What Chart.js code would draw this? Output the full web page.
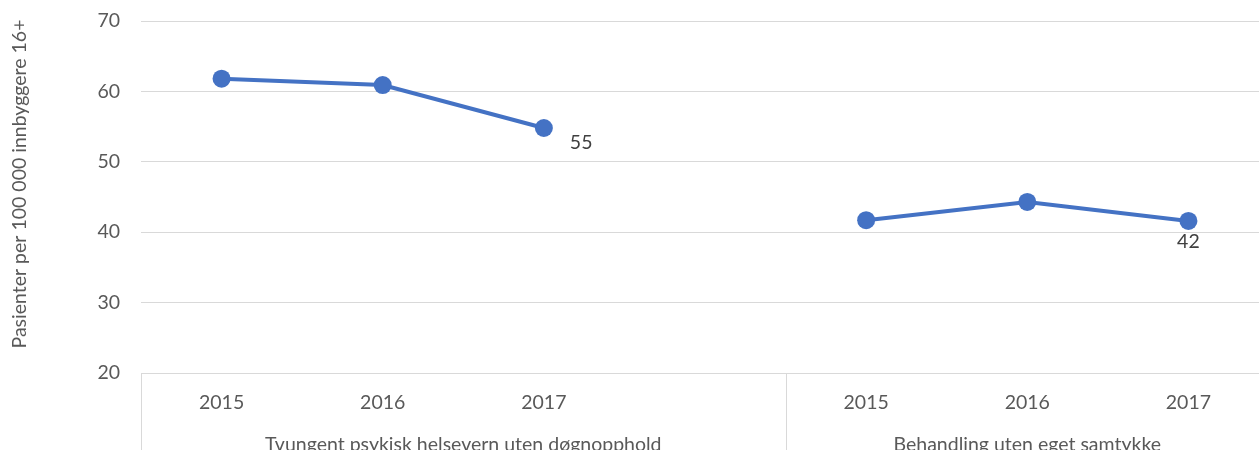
<!DOCTYPE html>
<html>
<head>
<meta charset="utf-8">
<script src="https://cdn.jsdelivr.net/npm/chart.js@4/dist/chart.umd.min.js"></script>
<style>
  html, body { margin: 0; padding: 0; background: #fff; overflow: hidden; }
  canvas { display: block; }
</style>
</head>
<body>
<canvas id="c" width="1278" height="470"></canvas>
<script>
// Year labels per category; the empty slot separates the two groups
const yearLabels = ['2015', '2016', '2017', '', '2015', '2016', '2017'];
const groupNames = ['Tvungent psykisk helsevern uten døgnopphold', 'Behandling uten eget samtykke'];
const groupRanges = [[0, 3], [4, 6]];  // first and last category index of each group
const tvungent = [61.8, 60.9, 54.8];
const behandling = [41.7, 44.3, 41.6];
const yTicks = [20, 30, 40, 50, 60, 70];
const yTitle = 'Pasienter per 100 000 innbyggere 16+';

const series = [...tvungent, null, ...behandling];
const labelIdx = [2, 6];              // points that carry a value label

const FONT = 'Lato, "Open Sans", sans-serif';
const FS = 19.5;
const BLUE = '#4472C4';
const GRID = '#d9d9d9';

const decor = {
  id: 'decor',
  afterDraw(chart) {
    const ctx = chart.ctx;
    const x = chart.scales.x;
    const area = chart.chartArea;
    ctx.save();
    // category axis separators at the group edges
    ctx.strokeStyle = GRID;
    ctx.lineWidth = 1;
    groupRanges.forEach(([a]) => {
      const p = Math.round(x.getPixelForValue(a - 0.5)) + 0.5;
      ctx.beginPath();
      ctx.moveTo(p, area.bottom);
      ctx.lineTo(p, chart.height);
      ctx.stroke();
    });
    // group names, centred under each group's span
    ctx.fillStyle = '#595959';
    ctx.font = FS + 'px ' + FONT;
    ctx.textAlign = 'center';
    ctx.textBaseline = 'middle';
    groupNames.forEach((g, i) => {
      const [a, b] = groupRanges[i];
      const cx = (x.getPixelForValue(a - 0.5) + x.getPixelForValue(b + 0.5)) / 2;
      ctx.fillText(g, cx, area.bottom + 72);
    });
    // value labels
    ctx.fillStyle = '#404040';
    const meta = chart.getDatasetMeta(0);
    labelIdx.forEach((idx, k) => {
      const pt = meta.data[idx];
      const txt = Math.round(series[idx]).toString();
      if (k === 0) {
        ctx.textAlign = 'left';
        ctx.fillText(txt, pt.x + 26, pt.y + 15);
      } else {
        ctx.textAlign = 'center';
        ctx.fillText(txt, pt.x, pt.y + 21);
      }
    });
    // y-axis title
    ctx.fillStyle = '#595959';
    ctx.font = FS + 'px ' + FONT;
    ctx.translate(20, 184);
    ctx.rotate(-Math.PI / 2);
    ctx.textAlign = 'center';
    ctx.fillText(yTitle, 0, 0);
    ctx.restore();
  }
};

new Chart(document.getElementById('c'), {
  type: 'line',
  data: {
    labels: yearLabels,
    datasets: [{
      data: series,
      borderColor: BLUE,
      backgroundColor: BLUE,
      borderWidth: 4,
      pointRadius: 9,
      pointHoverRadius: 9,
      pointBackgroundColor: BLUE,
      pointBorderWidth: 0,
      spanGaps: false,
      tension: 0
    }]
  },
  options: {
    responsive: false,
    animation: false,
    layout: { padding: { top: 21, right: 0, left: 0, bottom: 0 } },
    plugins: { legend: { display: false }, tooltip: { enabled: false } },
    scales: {
      x: {
        offset: true,
        grid: { display: false, drawTicks: false },
        border: { display: true, color: GRID, width: 1 },
        ticks: {
          color: '#595959',
          font: { family: FONT, size: FS },
          padding: 18,
          maxRotation: 0,
          autoSkip: false
        },
        afterFit(s) { s.height = 97; s.paddingLeft = 0; s.paddingRight = 0; }
      },
      y: {
        min: 20,
        max: 70,
        afterBuildTicks(s) { s.ticks = yTicks.map(v => ({ value: v })); },
        grid: { color: GRID, lineWidth: 1, drawTicks: false },
        border: { display: false },
        ticks: {
          color: '#595959',
          font: { family: FONT, size: FS },
          padding: 21
        },
        afterFit(s) { s.width = 141; s.paddingTop = 0; s.paddingBottom = 0; }
      }
    }
  },
  plugins: [decor]
});
</script>
</body>
</html>
